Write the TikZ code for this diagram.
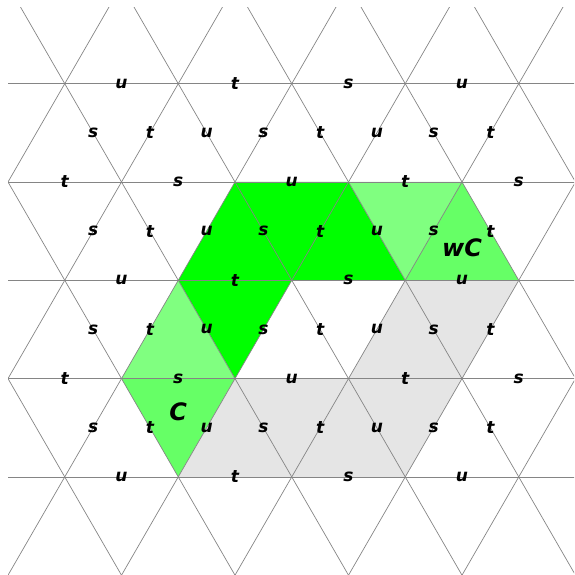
\documentclass[tikz,border=0pt]{standalone}
\usepackage{fontspec}
\newfontfamily\labfont{DejaVu Sans}
\usepackage{xcolor}
\usepackage{tikz}

\begin{document}
\begin{tikzpicture}[x=1pt, y=1pt]
    % --- GLOBAL DEFINITIONS ---
    \def\a{113.5}  % Triangle side
    \def\ha{56.75} % Half side
    \def\h{98.3}   % Triangle height

    % Custom colors
    \definecolor{greendark}{HTML}{00FF00}
    \definecolor{greenlight}{HTML}{80FF80}
    \definecolor{greenmid}{HTML}{66FF66}
    \definecolor{shadegray}{HTML}{E5E5E5}

    \tikzset{
        gridline/.style={draw=black!48, line width=0.7pt},
        edgelabel/.style={font=\labfont\bfseries\itshape\fontsize{17}{17}\selectfont, inner sep=0pt},
        cosetlabel/.style={font=\labfont\bfseries\itshape\fontsize{24}{24}\selectfont, inner sep=0pt}
    }

    \useasboundingbox (0,0) rectangle (574,575);

    \begin{scope}
        \clip (8,0) rectangle (574,567);
        % Lattice coordinates: i along a row, j one row down
        \begin{scope}[shift={(8,393)}, x={(\a pt,0pt)}, y={(\ha pt,-\h pt)}]
            % Coloured triangles
            \fill[greendark] (2,0) -- (3,0) -- (3,1) -- (1,1) -- cycle;
            \fill[greendark] (1,1) -- (2,1) -- (1,2) -- cycle;
            \fill[greenlight] (3,0) -- (4,0) -- (3,1) -- cycle;
            \fill[greenlight] (0,2) -- (1,2) -- (1,1) -- cycle;
            \fill[greenmid] (4,0) -- (3,1) -- (4,1) -- cycle;
            \fill[greenmid] (0,2) -- (1,2) -- (0,3) -- cycle;
            \fill[shadegray] (3,1) -- (4,1) -- (3,2) -- (2,2) -- cycle;
            \fill[shadegray] (1,2) -- (3,2) -- (2,3) -- (0,3) -- cycle;

            % Grid lines in three directions
            \foreach \j in {-1,...,4}
                \draw[gridline] (-6,\j) -- (10,\j);
            \foreach \i in {-4,...,7}
                \draw[gridline] (\i,-2) -- (\i,5);
            \foreach \k in {0,...,10}
                \draw[gridline] ({\k+2},-2) -- ({\k-5},5);

            % Labels on horizontal edges
            \foreach \j/\m/\l [count=\n] in {-1/1.5/u, -1/2.5/t, -1/3.5/s, -1/4.5/u,
                    0/0.5/t, 0/1.5/s, 0/2.5/u, 0/3.5/t, 0/4.5/s,
                    1/0.5/u, 1/1.5/t, 1/2.5/s, 1/3.5/u,
                    2/-0.5/t, 2/0.5/s, 2/1.5/u, 2/2.5/t, 2/3.5/s,
                    3/-0.5/u, 3/0.5/t, 3/1.5/s, 3/2.5/u}
                \node[edgelabel] (hl\n) at (\m,\j) {\l};

            % Labels on slanted edges
            \foreach \j in {-1,...,2}
                \foreach \l [count=\k from 0] in {s,t,u,s,t,u,s,t}
                    \node[edgelabel] (sl\j-\k) at ({0.5-0.5*\j+0.5*\k},{\j+0.5}) {\l};

            % Coset labels
            \node[cosetlabel] (C) at ({1/3},{7/3}) {C};
            \node[cosetlabel] (wC) at ({11/3},{2/3}) {wC};
        \end{scope}
    \end{scope}
\end{tikzpicture}
\end{document}
